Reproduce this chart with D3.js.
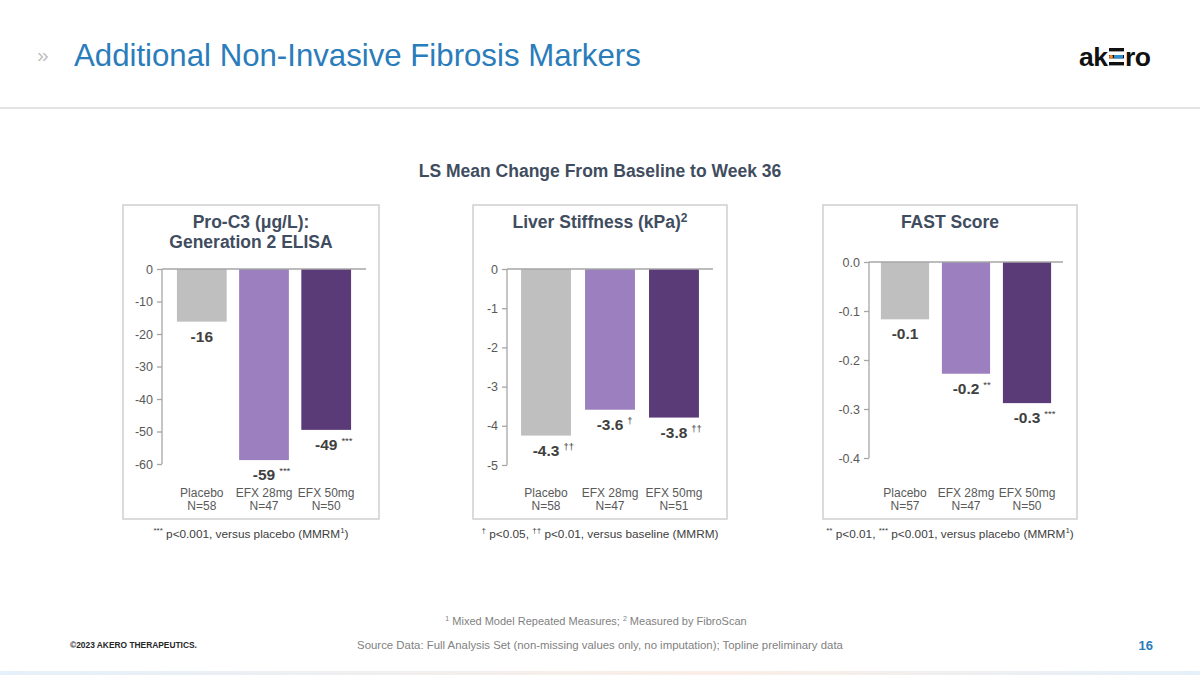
<!DOCTYPE html>
<html><head><meta charset="utf-8">
<script src="https://cdn.jsdelivr.net/npm/d3@7"></script>
<style>
html,body{margin:0;padding:0;background:#fff;}
svg{display:block;font-family:"Liberation Sans",Arial,sans-serif;}
</style></head>
<body>
<svg id="c" width="1200" height="675"></svg>
<script>
// ---------- data ----------
const categories = ["Placebo", "EFX 28mg", "EFX 50mg"];
const proC3Values = [-16.2, -58.8, -49.5];
const proC3Labels = ["-16", "-59", "-49"];
const proC3Sig = ["", "***", "***"];
const proC3N = ["N=58", "N=47", "N=50"];
const proC3Ticks = [0, -10, -20, -30, -40, -50, -60];

const liverValues = [-4.25, -3.59, -3.79];
const liverLabels = ["-4.3", "-3.6", "-3.8"];
const liverSig = ["††", "†", "††"];
const liverN = ["N=58", "N=47", "N=51"];
const liverTicks = [0, -1, -2, -3, -4, -5];

const fastValues = [-0.117, -0.228, -0.288];
const fastLabels = ["-0.1", "-0.2", "-0.3"];
const fastSig = ["", "**", "***"];
const fastN = ["N=57", "N=47", "N=50"];
const fastTicks = [0.0, -0.1, -0.2, -0.3, -0.4];

const barColors = ["#bfbfbf", "#9c7fbf", "#5a3b78"];

const svg = d3.select("#c");
const hy = f => (v => f(v).replace("\u2212", "-"));

// ---------- header ----------
svg.append("text").attr("x", 37).attr("y", 62).attr("font-size", 21).attr("fill", "#bfbfbf").text("»");
svg.append("text").attr("x", 74).attr("y", 66).attr("font-size", 31.2).attr("fill", "#2a7cba")
  .text("Additional Non-Invasive Fibrosis Markers");
// logo
const logo = svg.append("g");
logo.append("text").attr("x", 1079).attr("y", 66).attr("font-size", 26.5).attr("font-weight", "bold").attr("fill", "#111").attr("letter-spacing", -0.5).text("ak");
[0, 1, 2].forEach(i => {
  logo.append("rect").attr("x", 1109).attr("y", 48 + i * 7).attr("width", 15).attr("height", 3.4).attr("fill", "#111");
});
logo.append("circle").attr("cx", 1111).attr("cy", 56.7).attr("r", 2).attr("fill", "#f08a24");
logo.append("rect").attr("x", 1114).attr("y", 55).attr("width", 9).attr("height", 3.4).attr("fill", "#2a8fd4");
logo.append("text").attr("x", 1125).attr("y", 66).attr("font-size", 26.5).attr("font-weight", "bold").attr("fill", "#111").attr("letter-spacing", -0.5).text("ro");

svg.append("rect").attr("x", 0).attr("y", 107).attr("width", 1200).attr("height", 2).attr("fill", "#e3e3e3");

svg.append("text").attr("x", 600).attr("y", 177).attr("text-anchor", "middle").attr("font-size", 17.5)
  .attr("font-weight", "bold").attr("fill", "#3f4d5f").text("LS Mean Change From Baseline to Week 36");

// ---------- panels ----------
const panels = [
  { box: [123, 379], axisX: 162, endX: 366, y0: 269, y1: 464, domain: [-60, 0], ticks: proC3Ticks, fmt: hy(d3.format("d")),
    values: proC3Values, labels: proC3Labels, sig: proC3Sig, n: proC3N, pad: 0.2, outer: 0.24,
    title: ["Pro-C3 (μg/L):", "Generation 2 ELISA"], foot: [["***", "sup"], [" p<0.001, versus placebo (MMRM", ""], ["1", "sup"], [")", ""]] },
  { box: [473, 727], axisX: 507, endX: 713, y0: 269, y1: 465, domain: [-5, 0], ticks: liverTicks, fmt: hy(d3.format("d")),
    values: liverValues, labels: liverLabels, sig: liverSig, n: liverN, pad: 0.22, outer: 0.22,
    title: null, foot: [["†", "sup"], [" p<0.05, ", ""], ["††", "sup"], [" p<0.01, versus baseline (MMRM)", ""]] },
  { box: [823, 1077], axisX: 869, endX: 1063, y0: 262, y1: 458, domain: [-0.4, 0], ticks: fastTicks, fmt: hy(d3.format(".1f")),
    values: fastValues, labels: fastLabels, sig: fastSig, n: fastN, pad: 0.21, outer: 0.195,
    title: ["FAST Score"], foot: [["**", "sup"], [" p<0.01, ", ""], ["***", "sup"], [" p<0.001, versus placebo (MMRM", ""], ["1", "sup"], [")", ""]] }
];

panels.forEach((p, pi) => {
  const g = svg.append("g");
  const cx = (p.box[0] + p.box[1]) / 2;
  g.append("rect").attr("x", p.box[0]).attr("y", 205).attr("width", p.box[1] - p.box[0]).attr("height", 314)
    .attr("fill", "none").attr("stroke", "#cfcfcf").attr("stroke-width", 1.5);

  // title
  const titleColor = "#3f4d5f";
  if (pi === 1) {
    const t = g.append("text").attr("x", cx).attr("y", 228).attr("text-anchor", "middle").attr("font-size", 17.5)
      .attr("font-weight", "bold").attr("fill", titleColor);
    t.append("tspan").text("Liver Stiffness (kPa)");
    t.append("tspan").attr("dy", -6).attr("font-size", 12).text("2");
  } else {
    p.title.forEach((line, i) => {
      g.append("text").attr("x", cx).attr("y", 228 + i * 20).attr("text-anchor", "middle").attr("font-size", 17.5)
        .attr("font-weight", "bold").attr("fill", titleColor).text(line);
    });
  }

  const y = d3.scaleLinear().domain(p.domain).range([p.y1, p.y0]);
  const x = d3.scaleBand().domain(categories).range([p.axisX, p.endX]).paddingInner(p.pad).paddingOuter(p.outer);

  // bars
  g.selectAll("rect.bar").data(p.values).join("rect").attr("class", "bar")
    .attr("x", (d, i) => x(categories[i])).attr("width", x.bandwidth())
    .attr("y", y(0)).attr("height", d => y(d) - y(0))
    .attr("fill", (d, i) => barColors[i]);

  // axis
  const ax = g.append("g").attr("transform", `translate(${p.axisX},0)`)
    .call(d3.axisLeft(y).tickValues(p.ticks).tickFormat(p.fmt).tickSize(5).tickSizeOuter(0).tickPadding(4));
  ax.select(".domain").attr("stroke", "#a6a6a6").attr("stroke-width", 1.3);
  ax.selectAll(".tick line").attr("stroke", "#a6a6a6").attr("stroke-width", 1.3);
  ax.selectAll(".tick text").attr("fill", "#595959").attr("font-size", 12.5).attr("font-family", "Liberation Sans, Arial, sans-serif");
  ax.select(".domain").attr("d", `M-0,${p.y1}V${p.y0}`);
  // zero baseline
  g.append("line").attr("x1", p.axisX).attr("x2", p.endX).attr("y1", y(0)).attr("y2", y(0))
    .attr("stroke", "#a6a6a6").attr("stroke-width", 1.3);

  // value labels
  p.values.forEach((v, i) => {
    const bx = x(categories[i]) + x.bandwidth() / 2;
    const by = y(v) + 20;
    const t = g.append("text").attr("x", bx).attr("y", by).attr("text-anchor", "middle").attr("font-size", 15.5)
      .attr("font-weight", "bold").attr("fill", "#404040").text(p.labels[i]);
    if (p.sig[i]) {
      const w = t.node().getComputedTextLength();
      g.append("text").attr("x", bx + w / 2 + 4).attr("y", by - 6).attr("font-size", 9.5)
        .attr("fill", "#404040").text(p.sig[i]);
    }
    // category labels
    g.append("text").attr("x", bx).attr("y", 497).attr("text-anchor", "middle").attr("font-size", 12)
      .attr("fill", "#595959").text(categories[i]);
    g.append("text").attr("x", bx).attr("y", 510).attr("text-anchor", "middle").attr("font-size", 12)
      .attr("fill", "#595959").text(p.n[i]);
  });

  // footnote
  const f = g.append("text").attr("x", cx).attr("y", 538).attr("text-anchor", "middle").attr("font-size", 11.8).attr("fill", "#404040");
  let level = 0;
  p.foot.forEach(([s, kind]) => {
    const target = kind === "sup" ? -5 : 0;
    const ts = f.append("tspan").attr("dy", target - level).text(s);
    if (kind === "sup") ts.attr("font-size", 8);
    level = target;
  });
});

// ---------- footer ----------
const fn = svg.append("text").attr("x", 596).attr("y", 625).attr("text-anchor", "middle").attr("font-size", 11).attr("fill", "#7f7f7f");
fn.append("tspan").attr("font-size", 7).attr("dy", -4).text("1");
fn.append("tspan").attr("dy", 4).text(" Mixed Model Repeated Measures; ");
fn.append("tspan").attr("font-size", 7).attr("dy", -4).text("2");
fn.append("tspan").attr("dy", 4).text(" Measured by FibroScan");

svg.append("text").attr("x", 600).attr("y", 649).attr("text-anchor", "middle").attr("font-size", 11.4).attr("fill", "#7f7f7f")
  .text("Source Data: Full Analysis Set (non-missing values only, no imputation); Topline preliminary data");
svg.append("text").attr("x", 70).attr("y", 648).attr("font-size", 8.4).attr("font-weight", "bold").attr("fill", "#262626")
  .text("©2023 AKERO THERAPEUTICS.");
svg.append("text").attr("x", 1153).attr("y", 650).attr("text-anchor", "end").attr("font-size", 13).attr("font-weight", "bold")
  .attr("fill", "#2a7cba").text("16");

const grad = svg.append("defs").append("linearGradient").attr("id", "bg");
grad.append("stop").attr("offset", "0%").attr("stop-color", "#e4f0fa");
grad.append("stop").attr("offset", "60%").attr("stop-color", "#fbeee6");
grad.append("stop").attr("offset", "100%").attr("stop-color", "#e4f0fa");
svg.append("rect").attr("x", 0).attr("y", 671).attr("width", 1200).attr("height", 4).attr("fill", "url(#bg)");
</script>
</body></html>
